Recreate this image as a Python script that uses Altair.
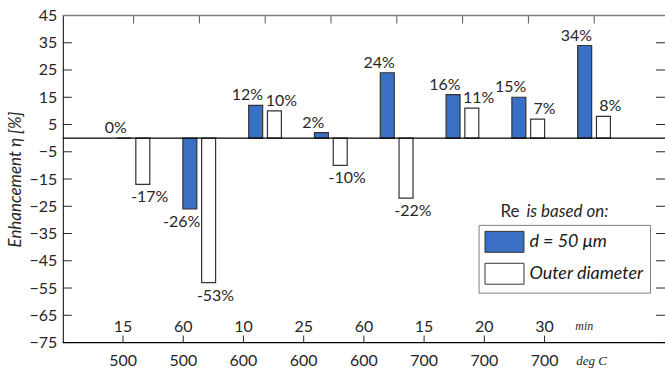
import altair as alt
import pandas as pd

# Test conditions (holding time and temperature) and enhancement values
group_ids = [1, 2, 3, 4, 5, 6, 7, 8]
minutes = [15, 60, 10, 25, 60, 15, 20, 30]
temps_c = [500, 500, 600, 600, 600, 700, 700, 700]
eta_d50 = [0, -26, 12, 2, 24, 16, 15, 34]
eta_outer = [-17, -53, 10, -10, -22, 11, 7, 8]
series = ["d = 50 μm", "Outer diameter"]
y_ticks = [-75, -65, -55, -45, -35, -25, -15, -5, 5, 15, 25, 35, 45]

W, H = 604, 328
FONT = "Lato"
INK = "#262626"

rows = []
for g, a, b in zip(group_ids, eta_d50, eta_outer):
    rows.append({"group": g, "k": 0, "series": series[0], "eta": a})
    rows.append({"group": g, "k": 1, "series": series[1], "eta": b})
bars_df = pd.DataFrame(rows)
cond_df = pd.DataFrame({"idx": group_ids, "minutes": minutes, "temp": temps_c})
tick_df = pd.DataFrame({"v": y_ticks})

xg = alt.Scale(domain=[0, 9], nice=False, zero=False)
xc = alt.Scale(domain=[0, 10], nice=False, zero=False)
ys = alt.Scale(domain=[-75, 45], nice=False, zero=False)

y_axis = alt.Axis(
    values=y_ticks, ticks=False, tickSize=0, grid=False,
    domainColor="black", domainWidth=1,
    labelFont=FONT, labelFontSize=16, labelColor=INK, labelPadding=6,
    title="Enhancement η [%]", titleFont=FONT, titleFontSize=17,
    titleFontStyle="italic", titleFontWeight="normal", titleColor=INK,
    titlePadding=5,
)


def yenc(field):
    return alt.Y(field, scale=ys, axis=y_axis)


base = alt.Chart(bars_df).transform_calculate(
    xb="datum.group + (datum.k == 0 ? -0.145 : 0.14)",
    xl="datum.group + (datum.k == 0 ? -0.27 : 0.245)",
    label="datum.eta + '%'",
)

legend = alt.Legend(
    title=None, orient="none", legendX=417, legendY=210, direction="vertical",
    padding=6, strokeColor="#808080", fillColor="white", cornerRadius=0,
    symbolType="M-1.86,-1H1.86V1H-1.86Z", symbolSize=441, symbolOffset=9,
    symbolStrokeColor="#333333", symbolStrokeWidth=1, symbolOpacity=1,
    labelFont=FONT, labelFontStyle="italic", labelFontSize=18,
    labelColor="#1a1a1a", labelOffset=14, rowPadding=6,
)

bars = base.mark_bar(orient="vertical", size=14, stroke="#333333", strokeWidth=1.2).encode(
    x=alt.X("xb:Q", scale=xg, axis=None),
    y=yenc("eta:Q"),
    y2=alt.datum(0),
    color=alt.Color("series:N", scale=alt.Scale(domain=series, range=["#3a6fc6", "#ffffff"]),
                    legend=legend),
)

pos_lbl = base.transform_filter("datum.eta >= 0").mark_text(
    baseline="alphabetic", dy=-5, font=FONT, fontSize=16, color=INK
).encode(
    x=alt.X("xl:Q", scale=xg, axis=None),
    y=yenc("eta:Q"),
    text="label:N",
)
neg_lbl = base.transform_filter("datum.eta < 0").mark_text(
    baseline="top", dy=5, font=FONT, fontSize=16, color=INK
).encode(
    x=alt.X("xl:Q", scale=xg, axis=None),
    y=yenc("eta:Q"),
    text="label:N",
)

left_ticks = alt.Chart(tick_df).mark_rule(color=INK).encode(
    y=yenc("v:Q"), x=alt.value(0), x2=alt.value(9)
)
right_ticks = alt.Chart(tick_df).mark_rule(color=INK).encode(
    y=yenc("v:Q"), x=alt.value(W - 9), x2=alt.value(W)
)
top_ticks = alt.Chart(cond_df).mark_rule(color="#555555").encode(
    x=alt.X("idx:Q", scale=xg, axis=None), y=alt.value(0), y2=alt.value(8)
)


def hline(value, color, width):
    return alt.Chart(pd.DataFrame({"v": [value]})).mark_rule(
        color=color, strokeWidth=width
    ).encode(y=yenc("v:Q"))


top_line = hline(45, "#808080", 1.5)
bottom_line = hline(-75, "black", 1.2)
zero_line = hline(0, "black", 1.2)

legend_head_1 = alt.Chart(pd.DataFrame({"t": ["Re"]})).mark_text(
    font=FONT, fontSize=17, color=INK, align="left", baseline="middle"
).encode(x=alt.value(439), y=alt.value(197), text="t:N")
legend_head_2 = alt.Chart(pd.DataFrame({"t": ["is based on:"]})).mark_text(
    font=FONT, fontSize=17, fontStyle="italic", color=INK, align="left", baseline="middle"
).encode(x=alt.value(465), y=alt.value(197), text="t:N")

group_layer = alt.layer(
    bars, left_ticks, right_ticks, top_ticks, top_line, bottom_line,
    zero_line, pos_lbl, neg_lbl, legend_head_1, legend_head_2,
)

# Condition rows along the bottom: holding time above the axis, temperature below
min_text = alt.Chart(cond_df).mark_text(
    font=FONT, fontSize=16, color=INK, baseline="middle"
).encode(x=alt.X("idx:Q", scale=xc, axis=None), y=alt.value(312), text="minutes:N")
temp_text = alt.Chart(cond_df).mark_text(
    font=FONT, fontSize=16, color=INK, baseline="middle"
).encode(x=alt.X("idx:Q", scale=xc, axis=None), y=alt.value(347), text="temp:N")
bottom_ticks = alt.Chart(cond_df).mark_rule(color=INK).encode(
    x=alt.X("idx:Q", scale=xc, axis=None), y=alt.value(H), y2=alt.value(H - 7)
)
unit_min = alt.Chart(pd.DataFrame({"t": ["min"]})).mark_text(
    font="Liberation Serif", fontSize=12, fontStyle="italic", color=INK,
    align="left", baseline="middle"
).encode(x=alt.value(514), y=alt.value(311), text="t:N")
unit_deg = alt.Chart(pd.DataFrame({"t": ["deg C"]})).mark_text(
    font="Liberation Serif", fontSize=13, fontStyle="italic", color=INK,
    align="left", baseline="middle"
).encode(x=alt.value(515), y=alt.value(347), text="t:N")

cond_layer = alt.layer(min_text, temp_text, bottom_ticks, unit_min, unit_deg)

chart = alt.layer(group_layer, cond_layer).resolve_scale(x="independent").properties(
    width=W, height=H,
    autosize=alt.AutoSizeParams(type="none"),
    padding={"left": 63, "top": 15, "right": 0, "bottom": 29},
).configure_view(stroke=None)

chart.save("out.html", embed_options={"renderer": "svg", "actions": False})
